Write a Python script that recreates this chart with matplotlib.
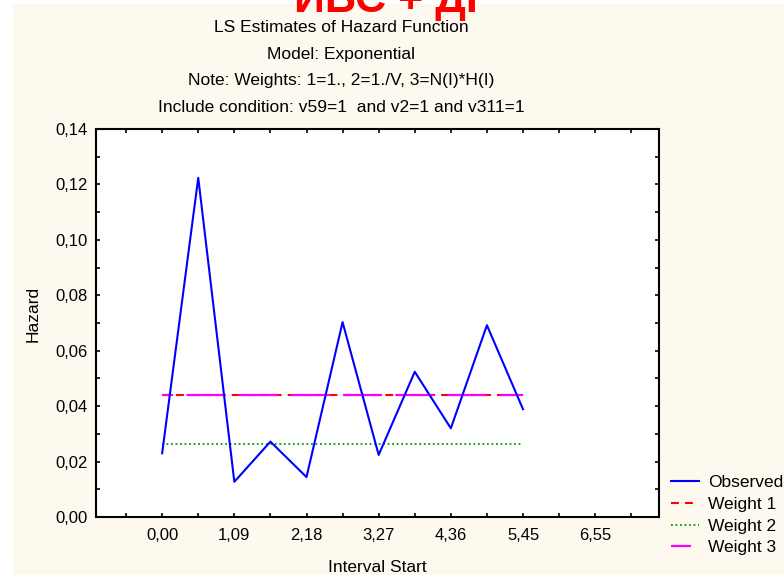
import matplotlib.pyplot as plt
import matplotlib.ticker as mticker
from matplotlib.lines import Line2D
from matplotlib.patches import Rectangle

plt.rcParams['font.family'] = ['Liberation Sans', 'DejaVu Sans']

# data
step = 6 / 11
interval_start = [i * step for i in range(11)]
observed = [0.0230, 0.1224, 0.0127, 0.0272, 0.0144, 0.0703, 0.0224, 0.0524, 0.0320, 0.0692, 0.0389]
weight1 = 0.0441
weight2 = 0.0262
weight3 = 0.0442
x_tick_labels = ['0,00', '1,09', '2,18', '3,27', '4,36', '5,45', '6,55']
y_ticks = [0.00, 0.02, 0.04, 0.06, 0.08, 0.10, 0.12, 0.14]
y_tick_labels = ['0,00', '0,02', '0,04', '0,06', '0,08', '0,10', '0,12', '0,14']

title = 'ИБС + ДГ'
subtitle = ['LS Estimates of Hazard Function',
            'Model: Exponential',
            'Note: Weights: 1=1., 2=1./V, 3=N(I)*H(I)',
            'Include condition: v59=1  and v2=1 and v311=1']

W, H = 784, 575
fig = plt.figure(figsize=(W / 100, H / 100), dpi=100, facecolor='white')
# cream background with thin white border on top/left
fig.patches.append(Rectangle((13 / W, 0), 1, 1 - 4 / H, transform=fig.transFigure,
                             facecolor='#FDF9EF', edgecolor='none', zorder=-10))

ax = fig.add_axes([96 / W, 1 - 517 / H, (659 - 96) / W, (517 - 129) / H])
ax.set_facecolor('white')

x0, x1 = interval_start[0], interval_start[-1]
ax.plot(interval_start, observed, color='#0000FF', lw=1.5, label='Observed', zorder=3)
ax.plot([x0, x1], [weight1] * 2, color='#FF0000', lw=1.5, linestyle=(0, (3.8, 2.9)), zorder=2)
ax.plot([x0, x1], [weight2] * 2, color='#00A000', lw=1.3, linestyle=(0, (1, 1.5)), zorder=2)
ax.plot([x0, x1], [weight3] * 2, color='#FF00FF', lw=1.6, linestyle=(12.5, (17.5, 6)), zorder=2)

ax.set_xlim(-1.0, 7.51)
ax.set_ylim(0, 0.14)
ax.set_xticks([i * 2 * step for i in range(len(x_tick_labels))])
ax.set_xticklabels(x_tick_labels)
ax.xaxis.set_minor_locator(mticker.MultipleLocator(step))
ax.set_yticks(y_ticks)
ax.set_yticklabels(y_tick_labels)
ax.yaxis.set_minor_locator(mticker.MultipleLocator(0.01))
ax.tick_params(which='both', direction='in', length=3, width=1.2,
               top=True, right=True, labelsize=12, colors='black')
ax.tick_params(axis='x', pad=8)
ax.tick_params(axis='y', pad=6)
for s in ax.spines.values():
    s.set_linewidth(1.5)

fig.text(33 / W, 1 - 314 / H, 'Hazard', rotation=90, ha='center', va='center', fontsize=12.5)
fig.text(377 / W, 1 - 568 / H, 'Interval Start', ha='center', va='center', fontsize=12.5)

for txt, yy in zip(subtitle, [28, 55, 81, 108]):
    fig.text(341 / W, 1 - yy / H, txt, ha='center', va='center', fontsize=12.5)
fig.text(392 / W, 1 - 12 / H, title, ha='center', va='baseline', fontsize=31,
         fontweight='bold', color='#FF0000')

handles = [Line2D([], [], color='#0000FF', lw=1.5),
           Line2D([], [], color='#FF0000', lw=1.5, linestyle=(0, (3.8, 2.9))),
           Line2D([], [], color='#00A000', lw=1.3, linestyle=(0, (1, 1.5))),
           Line2D([], [], color='#FF00FF', lw=1.6, linestyle=(0, (9, 50)))]
fig.legend(handles, ['Observed', 'Weight 1', 'Weight 2', 'Weight 3'],
           loc='upper left', bbox_to_anchor=(671 / W, 1 - 475 / H), frameon=False,
           fontsize=12.5, handlelength=1.6, handletextpad=0.52, labelspacing=0.38,
           borderaxespad=0, borderpad=0)

fig.savefig('out.png', dpi=100, facecolor=fig.get_facecolor())
